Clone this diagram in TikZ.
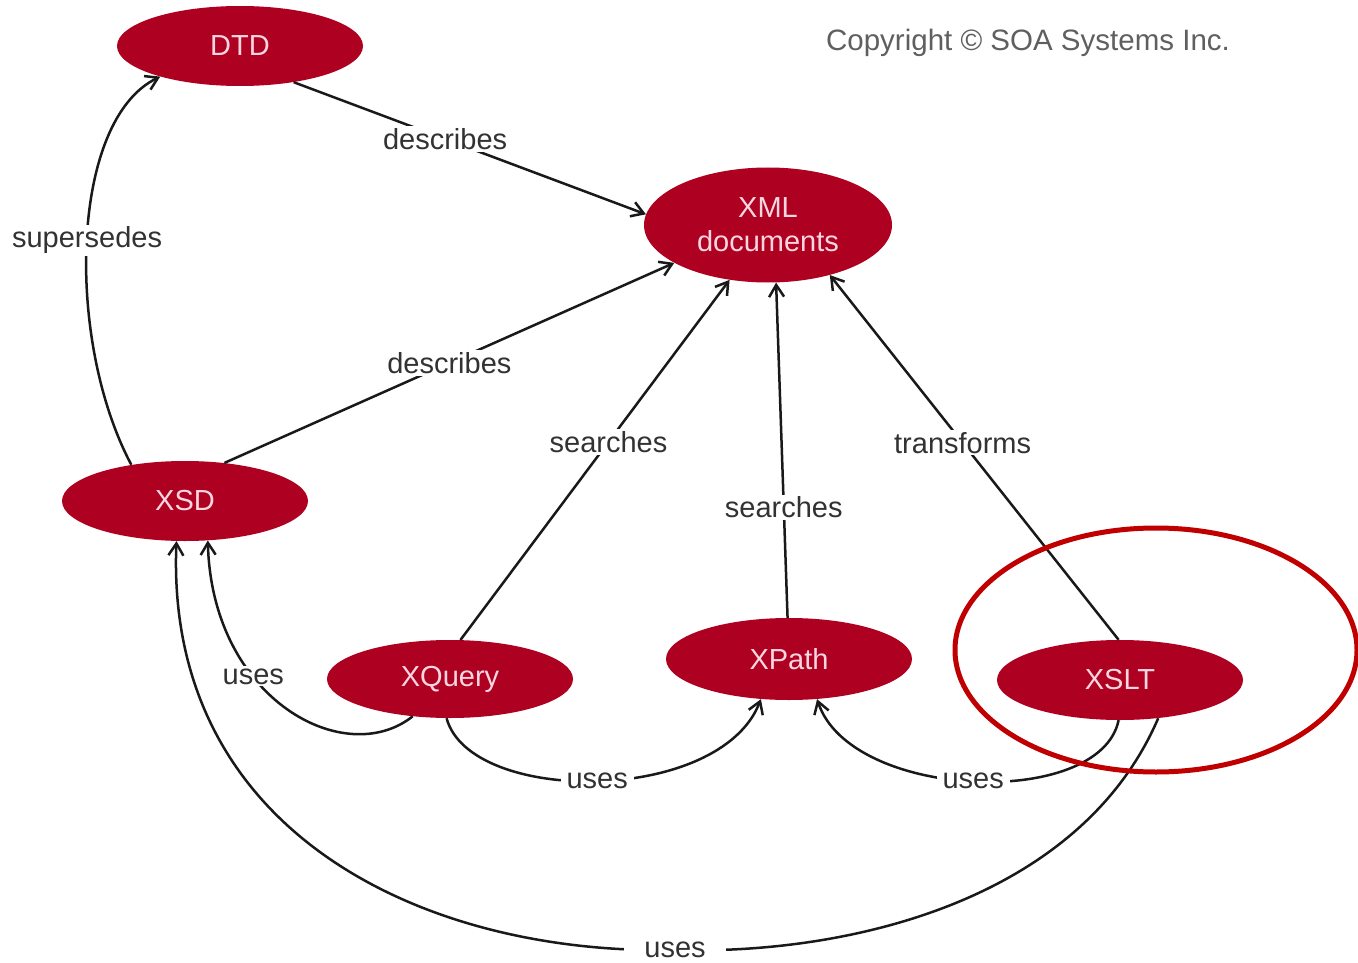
\documentclass[tikz,border=0pt]{standalone}
\usepackage{fontspec}
\setmainfont{Liberation Sans}
\usetikzlibrary{arrows.meta,shapes.geometric}
\definecolor{nodered}{RGB}{174,0,32}
\definecolor{nodetext}{RGB}{250,214,224}
\definecolor{lbltext}{RGB}{50,50,50}
\definecolor{hlred}{RGB}{192,0,0}
\definecolor{copygray}{RGB}{95,95,95}
\begin{document}
\begin{tikzpicture}[x=1pt,y=-1pt,
 concept/.style={ellipse, fill=nodered, text=nodetext, minimum width=246pt, minimum height=80pt, inner sep=0pt, font=\fontsize{29}{34}\selectfont, align=center},
 conn/.style={line width=2.5pt, draw=black!90, -{Straight Barb[length=12pt,width=15pt]}},
 lbl/.style={fill=white, text=lbltext, font=\fontsize{29}{30}\selectfont, inner xsep=6pt, inner ysep=2pt},
 hl/.style={draw=hlred, line width=5pt}]
\useasboundingbox (0,0) rectangle (1358,963);
\node[concept] (DTD) at (240,46) {DTD};
\node[concept, minimum width=248pt, minimum height=115pt] (XML) at (768,225) {XML\\documents};
\node[concept] (XSD) at (185,501) {XSD};
\node[concept, minimum height=78pt] (XQuery) at (450,679) {XQuery};
\node[concept, minimum height=82pt] (XPath) at (789,659) {XPath};
\node[concept] (XSLT) at (1120,680) {XSLT};
\node[text=copygray, font=\fontsize{29.5}{30}\selectfont] (copy) at (1028,43) {Copyright © SOA Systems Inc.};
\draw[conn] (DTD.-34) -- node[lbl,pos=0.43] (l1) {describes} (XML.175);
\draw[conn] (XSD.44) -- node[lbl,pos=0.5] (l2) {describes} (XML.202);
\draw[conn] (XSD.146) .. controls (65,340) and (70,120) .. node[lbl,pos=0.5] (l3) {supersedes} (DTD.201);
\draw[conn] (XQuery.75) -- node[lbl,pos=0.55] (l4) {searches} (XML.235);
\draw[conn] (XPath.92) -- node[lbl,pos=0.33] (l5) {searches} (XML.278);
\draw[conn] (XSLT.92) -- node[lbl,pos=0.54] (l6) {transforms} (XML.321);
\draw[conn] (XQuery.225) .. controls (345,770) and (212,700) .. node[lbl,pos=0.64] (l7) {uses} (XSD.-60);
\draw[conn] (XQuery.265) .. controls (470,805) and (720,805) .. node[lbl,pos=0.5] (l8) {uses} (XPath.235);
\draw[conn] (XSLT.268) .. controls (1100,810) and (850,800) .. node[lbl,pos=0.5] (l9) {uses} (XPath.305);
\coordinate (u4) at (675,950);
\draw[conn] (XSLT.-45) .. controls (1080,900) and (850,955) .. (u4) .. controls (420,955) and (165,830) .. (XSD.258);
\node[lbl, inner xsep=20pt] (l10) at (u4) {uses};
\draw[hl] (1156,650) ellipse [x radius=201pt, y radius=122pt];
\end{tikzpicture}
\end{document}
